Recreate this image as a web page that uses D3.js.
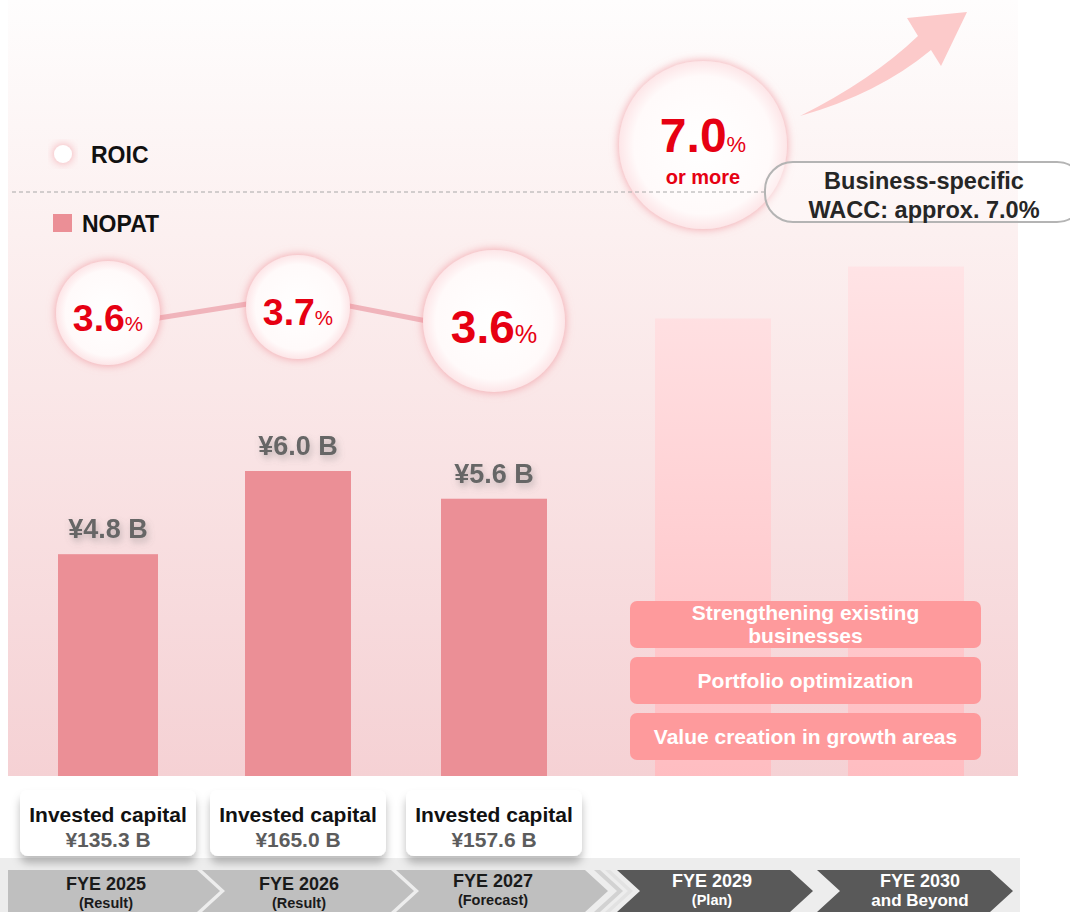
<!DOCTYPE html>
<html>
<head>
<meta charset="utf-8">
<script src="https://cdn.jsdelivr.net/npm/d3@7"></script>
<style>
  body { margin: 0; background: #fff; }
  svg { display: block; font-family: "Liberation Sans", Arial, sans-serif; font-weight: bold; }
</style>
</head>
<body>
<svg id="chart" width="1070" height="912"></svg>
<script>
// ---- data ----
const years = ['FYE 2025', 'FYE 2026', 'FYE 2027', 'FYE 2029', 'FYE 2030']
const yearNotes = ['(Result)', '(Result)', '(Forecast)', '(Plan)', 'and Beyond']
const actualYears = ['FYE 2025', 'FYE 2026', 'FYE 2027']
const planYears = ['FYE 2029', 'FYE 2030']
const nopat = [4.8, 6.0, 5.6]            // ¥ B
const roic = [3.6, 3.7, 3.6]             // %
const investedCapital = [135.3, 165.0, 157.6] // ¥ B
const planLevel = [8.2, 8.95]            // illustrative, unlabeled
const roicTarget = 7.0
const waccLines = ['Business-specific', 'WACC: approx. 7.0%']
const initiatives = [['Strengthening existing', 'businesses'], ['Portfolio optimization'], ['Value creation in growth areas']]

const svg = d3.select('#chart')
const defs = svg.append('defs')

// scales
const x = d3.scaleOrdinal(years, [108, 298, 494, 713, 906])
const y = d3.scaleLinear().domain([1.6, 6.0]).range([776, 471])
const roicY = d3.scaleLinear().domain([3.6, 3.7]).range([313, 307])
const roicLineY = d3.scaleLinear().domain([3.6, 3.7]).range([326, 296])
const chevSpan = d3.scaleOrdinal(years, [[8, 197], [202, 391], [396, 585], [617, 790], [817, 990]])
const textX = d3.scaleOrdinal(years, [106, 299, 493, 712, 920])

// gradients + filters
const panelGrad = defs.append('linearGradient').attr('id', 'panel').attr('x1', 0).attr('y1', 0).attr('x2', 0).attr('y2', 1)
panelGrad.append('stop').attr('offset', '0%').attr('stop-color', '#fefdfd')
panelGrad.append('stop').attr('offset', '30%').attr('stop-color', '#fcf0f0')
panelGrad.append('stop').attr('offset', '100%').attr('stop-color', '#f5d1d4')

const ghostGrad = defs.append('linearGradient').attr('id', 'ghost')
  .attr('gradientUnits', 'userSpaceOnUse').attr('x1', 0).attr('y1', 260).attr('x2', 0).attr('y2', 776)
ghostGrad.append('stop').attr('offset', '0%').attr('stop-color', '#ffe4e6')
ghostGrad.append('stop').attr('offset', '100%').attr('stop-color', '#ffbdc1')

const bubbleGrad = defs.append('radialGradient').attr('id', 'bubble')
bubbleGrad.append('stop').attr('offset', '0%').attr('stop-color', '#ffffff')
bubbleGrad.append('stop').attr('offset', '82%').attr('stop-color', '#fffafa')
bubbleGrad.append('stop').attr('offset', '100%').attr('stop-color', '#fde6e8')

const glow = defs.append('filter').attr('id', 'glow').attr('x', '-30%').attr('y', '-30%').attr('width', '160%').attr('height', '160%')
glow.append('feDropShadow').attr('dx', 0).attr('dy', 0).attr('stdDeviation', 5)
  .attr('flood-color', '#ee8690').attr('flood-opacity', 0.75)

const txtShadow = defs.append('filter').attr('id', 'tshadow').attr('x', '-20%').attr('y', '-40%').attr('width', '140%').attr('height', '180%')
txtShadow.append('feDropShadow').attr('dx', 2).attr('dy', 4).attr('stdDeviation', 3.5)
  .attr('flood-color', '#777').attr('flood-opacity', 0.45)

const cardShadow = defs.append('filter').attr('id', 'cshadow').attr('x', '-20%').attr('y', '-30%').attr('width', '140%').attr('height', '170%')
cardShadow.append('feDropShadow').attr('dx', 0).attr('dy', 7).attr('stdDeviation', 4)
  .attr('flood-color', '#000').attr('flood-opacity', 0.26)

// background panel
svg.append('rect').attr('x', 8).attr('y', 0).attr('width', 1010).attr('height', 776).attr('fill', 'url(#panel)')

// plan (ghost) bars
svg.append('g').selectAll('rect').data(planYears).join('rect')
  .attr('x', (d) => x(d) - 58)
  .attr('width', 116)
  .attr('y', (d, i) => y(planLevel[i]))
  .attr('height', (d, i) => y(1.6) - y(planLevel[i]))
  .attr('fill', 'url(#ghost)')

// NOPAT bars
svg.append('g').selectAll('rect').data(actualYears).join('rect')
  .attr('x', (d, i) => x(d) - (i === 0 ? 50 : 53))
  .attr('width', (d, i) => (i === 0 ? 100 : 106))
  .attr('y', (d, i) => y(nopat[i]))
  .attr('height', (d, i) => y(1.6) - y(nopat[i]))
  .attr('fill', '#eb8f96')

svg.append('g').selectAll('text').data(actualYears).join('text')
  .attr('x', (d) => x(d))
  .attr('y', (d, i) => y(nopat[i]) - 16)
  .attr('text-anchor', 'middle')
  .attr('font-size', 27)
  .attr('fill', '#666')
  .attr('filter', 'url(#tshadow)')
  .text((d, i) => `¥${nopat[i].toFixed(1)} B`)

// initiatives boxes
const ib = svg.append('g').selectAll('g').data(initiatives).join('g')
  .attr('transform', (d, i) => `translate(630,${601 + i * 56})`)
ib.append('rect').attr('width', 351).attr('height', 47).attr('rx', 7).attr('fill', '#fe9a9c')
ib.each(function (lines) {
  const g = d3.select(this)
  const y0 = lines.length > 1 ? 19 : 31
  lines.forEach((l, j) => {
    g.append('text').attr('x', 175.5).attr('y', y0 + j * 23)
      .attr('text-anchor', 'middle').attr('font-size', 21).attr('fill', '#fff').text(l)
  })
})

// legend
svg.append('circle').attr('cx', 63).attr('cy', 154).attr('r', 9).attr('fill', '#fff').attr('filter', 'url(#glow)')
svg.append('text').attr('x', 91).attr('y', 163).attr('font-size', 23).attr('fill', '#111').text('ROIC')
svg.append('rect').attr('x', 53).attr('y', 214).attr('width', 19).attr('height', 18).attr('fill', '#eb8f96')
svg.append('text').attr('x', 82).attr('y', 232).attr('font-size', 23).attr('fill', '#111').text('NOPAT')

// ROIC line + bubbles
const bubbles = actualYears.map((d, i) => {
  const r = d === 'FYE 2027' ? 71 : 52
  const off = (r - 52) * 0.42
  return { cx: x(d), cy: roicY(roic[i]) + off, ly: roicLineY(roic[i]) + off, r, v: roic[i] }
})
svg.append('path')
  .attr('d', d3.line().x((d) => d.cx).y((d) => d.ly)(bubbles))
  .attr('fill', 'none').attr('stroke', '#f0b4bb').attr('stroke-width', 5)

const bg = svg.append('g').selectAll('g').data(bubbles).join('g')
bg.append('circle').attr('cx', (d) => d.cx).attr('cy', (d) => d.cy).attr('r', (d) => d.r)
  .attr('fill', 'url(#bubble)').attr('filter', 'url(#glow)')
bg.each(function (d) {
  const fs = 14 + 0.45 * d.r
  const t = d3.select(this).append('text')
    .attr('x', d.cx).attr('y', d.cy + fs * 0.47)
    .attr('text-anchor', 'middle').attr('fill', '#e60012')
  t.append('tspan').attr('font-size', fs).text(d.v.toFixed(1))
  t.append('tspan').attr('font-size', fs * 0.55).attr('font-weight', 'normal').text('%')
})

// target arrow
svg.append('path')
  .attr('d', 'M800,116 Q872,80 918,36 L907,18 L967,12 L941,66 L931,50 Q878,94 800,116 Z')
  .attr('fill', '#fccaca')

// target bubble
const tcx = x('FYE 2029') - 10
svg.append('circle').attr('cx', tcx).attr('cy', 145).attr('r', 84)
  .attr('fill', 'url(#bubble)').attr('filter', 'url(#glow)')
const tt = svg.append('text').attr('x', tcx).attr('y', 152).attr('text-anchor', 'middle').attr('fill', '#e60012')
tt.append('tspan').attr('font-size', 48).text(roicTarget.toFixed(1))
tt.append('tspan').attr('font-size', 22).attr('font-weight', 'normal').text('%')
svg.append('text').attr('x', tcx).attr('y', 184).attr('text-anchor', 'middle')
  .attr('font-size', 20).attr('fill', '#e60012').text('or more')

// dashed separator
svg.append('line').attr('x1', 12).attr('x2', 765).attr('y1', 192).attr('y2', 192)
  .attr('stroke', '#a8a8a8').attr('stroke-width', 1).attr('stroke-dasharray', '4,3')

// WACC box
svg.append('rect').attr('x', 765).attr('y', 162).attr('width', 320).attr('height', 60).attr('rx', 28)
  .attr('fill', 'rgba(255,255,255,0.35)').attr('stroke', '#b4b4b4').attr('stroke-width', 2)
svg.append('g').selectAll('text').data(waccLines).join('text')
  .attr('x', 924).attr('y', (d, i) => 189 + i * 29)
  .attr('text-anchor', 'middle').attr('font-size', 23.5).attr('fill', '#262626').text((d) => d)

// timeline strip
svg.append('rect').attr('x', 0).attr('y', 858).attr('width', 1020).attr('height', 54).attr('fill', '#ededed')

// invested capital cards
const cards = svg.append('g').selectAll('g').data(actualYears).join('g')
  .attr('transform', (d) => `translate(${x(d)},0)`)
cards.append('rect').attr('x', -88).attr('y', 790).attr('width', 176).attr('height', 66).attr('rx', 8)
  .attr('fill', '#fff').attr('filter', 'url(#cshadow)')
cards.append('text').attr('y', 822).attr('text-anchor', 'middle').attr('font-size', 21).attr('fill', '#111')
  .text('Invested capital')
cards.append('text').attr('y', 847).attr('text-anchor', 'middle').attr('font-size', 21).attr('fill', '#5c5c5c')
  .text((d, i) => `¥${investedCapital[i].toFixed(1)} B`)

// chevrons
const chTop = 870, chBot = 912, chMid = (chTop + chBot) / 2, tip = 23
function chev(x0, x1, notch) {
  return `M${x0},${chTop}L${x1},${chTop}L${x1 + tip},${chMid}L${x1},${chBot}L${x0},${chBot}L${x0 + (notch ? tip : 0)},${chMid}Z`
}
// skipped-year marks
svg.append('path').attr('d', chev(594, 600, true)).attr('fill', '#d2d2d2')
svg.append('path').attr('d', chev(605, 610, true)).attr('fill', '#e2e2e2')

const chevG = svg.append('g').selectAll('g').data(years).join('g')
chevG.append('path')
  .attr('d', (d, i) => chev(chevSpan(d)[0], chevSpan(d)[1], i > 0))
  .attr('fill', (d) => (planYears.includes(d) ? '#595959' : '#bfbfbf'))
chevG.append('text').attr('x', (d) => textX(d)).attr('y', (d, i) => (i < 2 ? 890 : 887))
  .attr('text-anchor', 'middle').attr('font-size', 18)
  .attr('fill', (d) => (planYears.includes(d) ? '#fff' : '#1a1a1a')).text((d) => d)
chevG.append('text').attr('x', (d) => textX(d)).attr('y', (d, i) => (i === 4 ? 906 : i < 2 ? 908 : 905))
  .attr('text-anchor', 'middle').attr('font-size', (d, i) => (i === 4 ? 17 : 14.5))
  .attr('fill', (d) => (planYears.includes(d) ? '#fff' : '#1a1a1a')).text((d, i) => yearNotes[i])
</script>
</body>
</html>
